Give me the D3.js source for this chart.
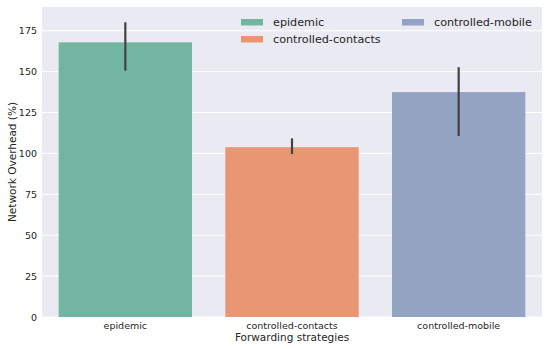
<!DOCTYPE html>
<html>
<head>
<meta charset="utf-8">
<script src="https://cdn.jsdelivr.net/npm/d3@7"></script>
<style>
  body { margin: 0; background: #fff; }
  svg text { font-family: "DejaVu Sans", sans-serif; fill: #262626; }
</style>
</head>
<body>
<script>
const width = 550;
const height = 349;

// data
const strategies = ["epidemic", "controlled-contacts", "controlled-mobile"];
const overhead = [167.9, 103.8, 137.5];
const ciLow = [150.6, 99.6, 110.6];
const ciHigh = [180.2, 109.2, 152.7];
const colors = ["#72b6a1", "#e99675", "#95a3c3"];
const yTicks = [0, 25, 50, 75, 100, 125, 150, 175];

const margin = {top: 7, right: 8, bottom: 32, left: 42};

const svg = d3.select("body").append("svg")
  .attr("width", width)
  .attr("height", height);

const x = d3.scaleBand()
  .domain(strategies)
  .range([margin.left, width - margin.right])
  .paddingInner(0.2)
  .paddingOuter(0.1);

const y = d3.scaleLinear()
  .domain([0, 189.5])
  .range([height - margin.bottom, margin.top]);

// background
svg.append("rect")
  .attr("x", margin.left)
  .attr("y", margin.top)
  .attr("width", width - margin.left - margin.right)
  .attr("height", height - margin.top - margin.bottom)
  .attr("fill", "#eaeaf2");

// grid
svg.append("g")
  .selectAll("line")
  .data(yTicks)
  .join("line")
  .attr("x1", margin.left)
  .attr("x2", width - margin.right)
  .attr("y1", d => y(d))
  .attr("y2", d => y(d))
  .attr("stroke", "#fff")
  .attr("stroke-width", 1);

// bars
svg.append("g")
  .selectAll("rect")
  .data(strategies)
  .join("rect")
  .attr("x", d => x(d))
  .attr("width", x.bandwidth())
  .attr("y", (d, i) => y(overhead[i]))
  .attr("height", (d, i) => y(0) - y(overhead[i]))
  .attr("fill", (d, i) => colors[i]);

// error bars
svg.append("g")
  .selectAll("line")
  .data(strategies)
  .join("line")
  .attr("x1", d => x(d) + x.bandwidth() / 2)
  .attr("x2", d => x(d) + x.bandwidth() / 2)
  .attr("y1", (d, i) => y(ciLow[i]))
  .attr("y2", (d, i) => y(ciHigh[i]))
  .attr("stroke", "#424242")
  .attr("stroke-width", 2.2);

// y axis
const yAxis = svg.append("g")
  .attr("transform", `translate(${margin.left},0)`)
  .call(d3.axisLeft(y).tickValues(yTicks).tickSize(0).tickPadding(5));
yAxis.select(".domain").remove();
yAxis.selectAll("text").attr("font-size", 9.5).attr("fill", "#262626");

// x axis
const xAxis = svg.append("g")
  .attr("transform", `translate(0,${height - margin.bottom})`)
  .call(d3.axisBottom(x).tickSize(0).tickPadding(5));
xAxis.select(".domain").remove();
xAxis.selectAll("text").attr("font-size", 9.5).attr("fill", "#262626");

// axis titles
svg.append("text")
  .attr("x", (margin.left + width - margin.right) / 2)
  .attr("y", 341)
  .attr("text-anchor", "middle")
  .attr("font-size", 10.5)
  .text("Forwarding strategies");

svg.append("text")
  .attr("transform", `translate(16,${(margin.top + height - margin.bottom) / 2}) rotate(-90)`)
  .attr("text-anchor", "middle")
  .attr("font-size", 10.5)
  .text("Network Overhead (%)");

// legend
const legendPos = [[241, 22], [241, 39], [402, 22]];
const legend = svg.append("g")
  .selectAll("g")
  .data(strategies)
  .join("g")
  .attr("transform", (d, i) => `translate(${legendPos[i][0]},${legendPos[i][1]})`);
legend.append("rect")
  .attr("x", 0)
  .attr("y", -3)
  .attr("width", 22)
  .attr("height", 6.5)
  .attr("fill", (d, i) => colors[i]);
legend.append("text")
  .attr("x", 32)
  .attr("y", 4)
  .attr("font-size", 11.2)
  .text(d => d);
</script>
</body>
</html>
